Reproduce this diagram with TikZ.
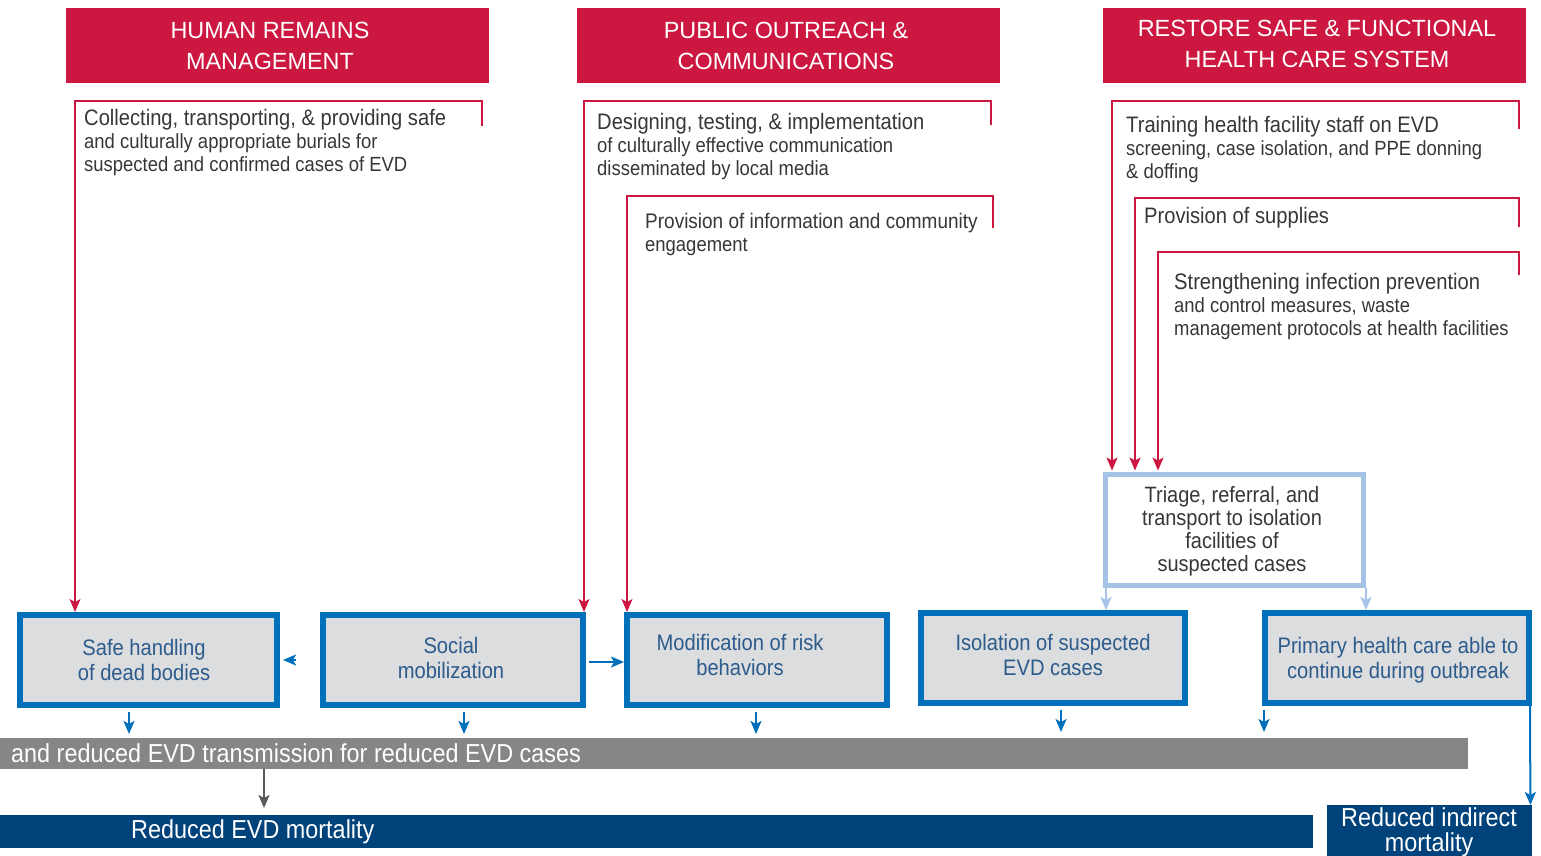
\documentclass[tikz,border=0pt]{standalone}
\usepackage{fontspec}
\setmainfont{Liberation Sans}[FakeStretch=0.9]
\newfontfamily\hdrfont{Liberation Sans}
\usetikzlibrary{arrows.meta,calc}
\definecolor{crim}{RGB}{204,24,64}
\definecolor{bblue}{RGB}{0,112,187}
\definecolor{bfill}{RGB}{220,221,223}
\definecolor{lblue}{RGB}{165,195,230}
\definecolor{gbarc}{RGB}{135,134,132}
\definecolor{dblue}{RGB}{0,66,122}
\definecolor{btext}{RGB}{44,91,140}
\definecolor{ttext}{RGB}{55,55,55}
\definecolor{garr}{RGB}{90,90,90}
\newcommand{\firstln}{\fontsize{22.4}{23}\selectfont}
\begin{document}
\begin{tikzpicture}[x=1pt,y=-1pt,
  hdr/.style={fill=crim, minimum width=423pt, minimum height=75pt, inner sep=0pt},
  hdrtxt/.style={text=white, inner sep=0pt, align=center, font=\hdrfont\fontsize{23.4}{31}\selectfont},
  bbox/.style={draw=bblue, line width=6pt, fill=bfill, inner sep=0pt, outer sep=0pt, minimum height=90pt},
  btxt/.style={text=btext, align=center, inner sep=0pt, font=\fontsize{22.4}{25}\selectfont},
  ttxt/.style={text=ttext, align=left, anchor=north west, inner sep=0pt, font=\fontsize{20.5}{23}\selectfont},
  ctxt/.style={text=ttext, align=center, inner sep=0pt, font=\fontsize{22.2}{23}\selectfont},
  redln/.style={draw=crim, line width=1.5pt},
  redarr/.style={redln, -{Stealth[length=13pt,width=11pt,inset=3pt]}},
  bluearr/.style={draw=bblue, line width=2pt, -{Stealth[length=13pt,width=11pt,inset=3pt]}},
  lbarr/.style={draw=lblue, line width=2.5pt, -{Stealth[length=13pt,width=11pt,inset=3pt]}},
  grayarr/.style={draw=garr, line width=2pt, -{Stealth[length=13pt,width=11pt,inset=3pt]}},
  barbox/.style={anchor=north west, inner sep=0pt},
  bartxt/.style={text=white, inner sep=0pt, font=\fontsize{26}{25}\selectfont}
]
\useasboundingbox (0,0) rectangle (1541,855);
\fill[white] (0,0) rectangle (1541,855);

% headers
\node[hdr] (hrm) at (277.5,45.5) {};
\node[hdr] (po) at (788.5,45.5) {};
\node[hdr] (hcs) at (1314.5,45.5) {};
\node[hdrtxt] (hrmt) at (270,45.5) {HUMAN REMAINS\\MANAGEMENT};
\node[hdrtxt] (pot) at (786,45.5) {PUBLIC OUTREACH \&\\COMMUNICATIONS};
\node[hdrtxt] (hcst) at (1317,43.5) {RESTORE SAFE \& FUNCTIONAL\\HEALTH CARE SYSTEM};

% outcome boxes
\node[bbox, minimum width=257pt] (safe) at (148.5,660) {};
\node[bbox, minimum width=260pt] (social) at (453,660) {};
\node[bbox, minimum width=260pt] (modif) at (757,660) {};
\node[bbox, minimum width=264pt] (isol) at (1053,658) {};
\node[bbox, minimum width=264pt] (prim) at (1397,658) {};
\node[btxt] (safet) at (144,660) {Safe handling\\of dead bodies};
\node[btxt] (socialt) at (451,658) {Social\\mobilization};
\node[btxt] (modift) at (740,655) {Modification of risk\\behaviors};
\node[btxt] (isolt) at (1053,655) {Isolation of suspected\\EVD cases};
\node[btxt] (primt) at (1398,660) {Primary health care able to\\continue during outbreak};

% triage box
\node[draw=lblue, line width=5pt, fill=white, outer sep=0pt, minimum width=258pt, minimum height=111pt, inner sep=0pt] (tri) at (1234.5,530) {};
\node[ctxt] (trit) at (1232,531) {Triage, referral, and\\transport to isolation\\facilities of\\suspected cases};

% activity texts
\node[ttxt] (a1) at (84,109) {{\firstln Collecting, transporting, \& providing safe}\\and culturally appropriate burials for\\suspected and confirmed cases of EVD};
\node[ttxt] (a2) at (597,113) {{\firstln Designing, testing, \& implementation}\\of culturally effective communication\\disseminated by local media};
\node[ttxt] (a3) at (645,213) {{\fontsize{21.1}{23}\selectfont Provision of information and community}\\engagement};
\node[ttxt] (a4) at (1126,116) {{\firstln Training health facility staff on EVD}\\screening, case isolation, and PPE donning\\\& doffing};
\node[ttxt] (a5) at (1144,207) {{\firstln Provision of supplies}};
\node[ttxt] (a6) at (1174,273) {{\firstln Strengthening infection prevention}\\and control measures, waste\\management protocols at health facilities};

% brackets
\coordinate (b1r) at (482,126); \coordinate (b1c) at (482,101); \coordinate (b1l) at (75,101);
\coordinate (b2r) at (991,125); \coordinate (b2c) at (991,101); \coordinate (b2l) at (584,101);
\coordinate (b3r) at (993,228); \coordinate (b3c) at (993,196); \coordinate (b3l) at (627,196);
\coordinate (b4r) at (1519,129); \coordinate (b4c) at (1519,101); \coordinate (b4l) at (1112,101);
\coordinate (b5r) at (1519,227); \coordinate (b5c) at (1519,198); \coordinate (b5l) at (1135,198);
\coordinate (b6r) at (1519,275); \coordinate (b6c) at (1519,252); \coordinate (b6l) at (1158,252);
\draw[redarr, shorten >=3pt] (b1r) -- (b1c) -- (b1l) -- (b1l |- safe.north);
\draw[redarr, shorten >=3pt] (b2r) -- (b2c) -- (b2l) -- (b2l |- social.north);
\draw[redarr, shorten >=3pt] (b3r) -- (b3c) -- (b3l) -- (b3l |- modif.north);
\draw[redarr, shorten >=4pt] (b4r) -- (b4c) -- (b4l) -- (b4l |- tri.north);
\draw[redarr, shorten >=4pt] (b5r) -- (b5c) -- (b5l) -- (b5l |- tri.north);
\draw[redarr, shorten >=4pt] (b6r) -- (b6c) -- (b6l) -- (b6l |- tri.north);

% bars
\node[barbox, fill=gbarc, minimum width=1468pt, minimum height=31pt] (gbar) at (0,738) {};
\node[bartxt, anchor=west] (gbart) at (11,753) {and reduced EVD transmission for reduced EVD cases};
\node[barbox, fill=dblue, minimum width=1313pt, minimum height=33pt] (dbar) at (0,815) {};
\node[bartxt, anchor=west] (dbart) at (131,832) {Reduced EVD mortality};
\node[barbox, fill=dblue, minimum width=205pt, minimum height=60pt] (ind) at (1327,805) {};
\node[bartxt, align=center] (indt) at (1429,832) {Reduced indirect\\mortality};

% arrows between boxes
\draw[bluearr] ($(safe.east)+(19,0)$) -- ($(safe.east)+(6,0)$);
\draw[bluearr] ($(social.east)+(6,2)$) -- ($(modif.west)+(-3,2)$);
\draw[bluearr] ($(safe.south)+(-19.5,7)$) -- ($(safe.south)+(-19.5,29)$);
\draw[bluearr] ($(social.south)+(11,7)$) -- ($(social.south)+(11,29)$);
\draw[bluearr] ($(modif.south)+(-1,7)$) -- ($(modif.south)+(-1,29)$);
\draw[bluearr] ($(isol.south)+(8,7)$) -- ($(isol.south)+(8,29)$);
\draw[bluearr] ($(prim.south west)+(-1,7)$) -- ($(prim.south west)+(-1,29)$);
\draw[grayarr] ($(gbar.south west)+(264,0)$) -- ($(dbar.north west)+(264,-7)$);
\draw[bluearr] ($(prim.south east)+(1,3)$) -- ($(ind.north east)+(-2,0)$);
\draw[lbarr] ($(tri.south west)+(0.5,2.5)$) -- ($(isol.north)+(53,-3)$);
\draw[lbarr] ($(tri.south east)+(2.5,2.5)$) -- ($(prim.north)+(-31,-3)$);
\end{tikzpicture}
\end{document}
